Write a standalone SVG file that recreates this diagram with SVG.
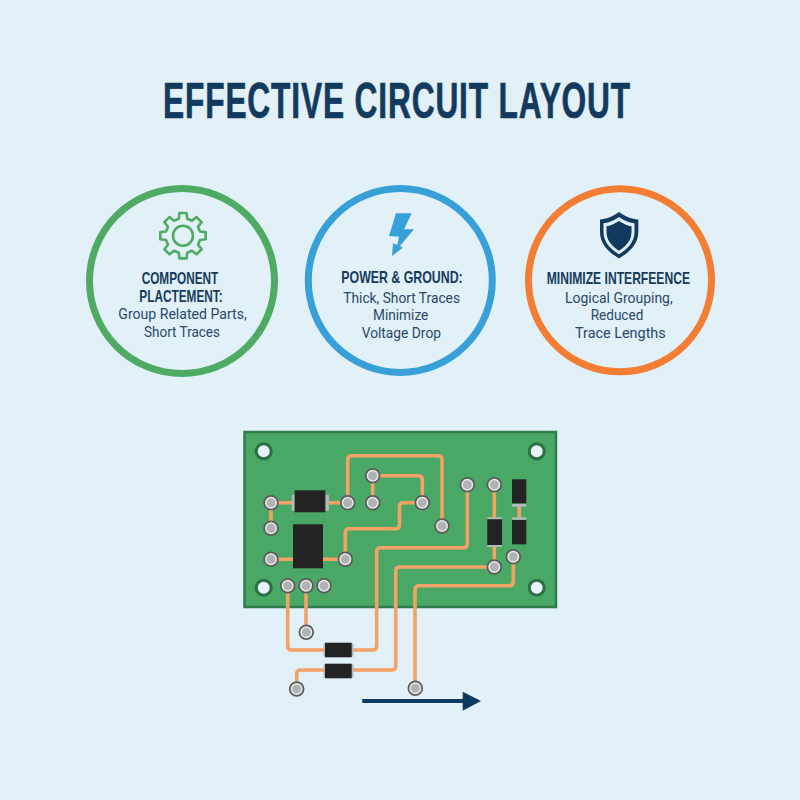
<svg xmlns="http://www.w3.org/2000/svg" width="800" height="800" viewBox="0 0 800 800">
<style>
.title{font-family:"Liberation Sans",Arial,sans-serif;font-weight:700;font-size:49.5px;fill:#123a5e;stroke:#123a5e;stroke-width:.7px}
.h{font-family:"Liberation Sans",Arial,sans-serif;font-weight:700;font-size:17px;fill:#153b5c}
.b{font-family:"Roboto","Liberation Sans",sans-serif;font-size:15.5px;fill:#27496a}
.ring{fill:none;stroke-width:7}
.tr{fill:none;stroke:#f4a265;stroke-width:3.6;stroke-linejoin:round}
.chip{fill:#232323}
.cap{fill:#b4b8bb}
.hole{fill:#e6f3f8;stroke:#2b6f45;stroke-width:3}
</style>
<defs>
<g id="pad"><circle r="6.900" fill="#e9ecec" stroke="#5c5c5c" stroke-width="1.800"/><circle r="4.500" fill="#b1b3b3"/></g>
</defs>
<rect width="800" height="800" fill="#e2f0f8"/>
<text id="title" class="title" transform="translate(163 117.500) scale(.64 1)" x="0" y="0" textLength="730">EFFECTIVE CIRCUIT LAYOUT</text>

<g id="node-placement">
<circle class="ring" cx="182" cy="281" r="92.500" stroke="#4fab63"/>
<path transform="translate(183 235.700)" fill="none" stroke="#4fab63" stroke-width="2.600" stroke-linejoin="round" d="M-4.230-16.980L-3.600-22.700L3.600-22.700L4.230-16.980L9.010-15L13.520-18.610L18.610-13.520L15-9.010L16.980-4.230L22.700-3.600L22.700 3.600L16.980 4.230L15 9.010L18.610 13.520L13.520 18.610L9.010 15L4.230 16.980L3.600 22.700L-3.600 22.700L-4.230 16.980L-9.010 15L-13.520 18.610L-18.610 13.520L-15 9.010L-16.980 4.230L-22.700 3.600L-22.700-3.600L-16.980-4.230L-15-9.010L-18.610-13.520L-13.520-18.610L-9.010-15Z"/>
<circle cx="183" cy="235.700" r="10" fill="none" stroke="#4fab63" stroke-width="2.600"/>
<text class="h" x="141.700" y="284" textLength="76.600" lengthAdjust="spacingAndGlyphs">COMPONENT</text>
<text class="h" x="139.300" y="301.700" textLength="83.400" lengthAdjust="spacingAndGlyphs">PLACTEMENT:</text>
<text class="b" x="118.300" y="319.300" textLength="128.400" lengthAdjust="spacingAndGlyphs">Group Related Parts,</text>
<text class="b" x="144" y="337.300" textLength="76" lengthAdjust="spacingAndGlyphs">Short Traces</text>
</g>

<g id="node-power">
<circle class="ring" cx="400.300" cy="280.500" r="92" stroke="#37a0d8"/>
<path fill="#37a0d8" d="M396 213.300L411.700 213.300L404 229.300L414 229.300L400 246L402.700 247.700L392 256L393 243.300L397.300 245L399 236.700L389 236Z"/>
<text class="h" x="341.300" y="283.300" textLength="121.400" lengthAdjust="spacingAndGlyphs">POWER &amp; GROUND:</text>
<text class="b" x="343.300" y="302.700" textLength="116.700" lengthAdjust="spacingAndGlyphs">Thick, Short Traces</text>
<text class="b" x="373" y="320" textLength="55.300" lengthAdjust="spacingAndGlyphs">Minimize</text>
<text class="b" x="361.700" y="337.700" textLength="79.300" lengthAdjust="spacingAndGlyphs">Voltage Drop</text>
</g>

<g id="node-interference">
<circle class="ring" cx="620" cy="280.300" r="91.500" stroke="#f27d33"/>
<path fill="#123a5e" d="M619 212C626 217 632 219 638.300 219.500L638.300 232C638.300 245 628 253 619 258.500C610 253 600 245 600 232L600 219.500C606 219 612 217 619 212Z"/>
<path fill="#e2f0f8" d="M619 217C625 221 630 223 634.500 223.300L634.500 232C634.500 243 626 250 619 254.200C612 250 603.500 243 603.500 232L603.500 223.300C608 223 613 221 619 217Z"/>
<path fill="#123a5e" d="M619 221C624 224 628 226 631.500 226.300L631.500 232C631.500 241 625 247 619 250.700C613 247 606.500 241 606.500 232L606.500 226.300C610 226 614 224 619 221Z"/>
<text class="h" x="546.700" y="284" textLength="143.300" lengthAdjust="spacingAndGlyphs">MINIMIZE INTERFEENCE</text>
<text class="b" x="565" y="302.700" textLength="107.700" lengthAdjust="spacingAndGlyphs">Logical Grouping,</text>
<text class="b" x="590.700" y="320" textLength="52.600" lengthAdjust="spacingAndGlyphs">Reduced</text>
<text class="b" x="575" y="337.700" textLength="90.700" lengthAdjust="spacingAndGlyphs">Trace Lengths</text>
</g>

<g id="node-board">
<rect x="244.500" y="432" width="311.500" height="175" fill="#4aa866" stroke="#2f7d4b" stroke-width="2.500"/>
<circle class="hole" cx="263.700" cy="451.300" r="7.500"/>
<circle class="hole" cx="536.700" cy="451.300" r="7.500"/>
<circle class="hole" cx="263.700" cy="587.700" r="7.500"/>
<circle class="hole" cx="536.700" cy="587.700" r="7.500"/>
</g>

<g id="connectors">
<path class="tr" d="M271 502.700H292M329 502.700H347.700M271 502.700V528.300M271 559.300H293M323 559.300H345.300"/>
<path class="tr" d="M347.700 502.700V459.700Q347.700 455.700 351.700 455.700H438Q442 455.700 442 459.700V526"/>
<path class="tr" d="M372.700 502.700V475.700H418.300Q422.300 475.700 422.300 479.700V502.700"/>
<path class="tr" d="M422.300 502.700H403.500Q399.500 502.700 399.500 506.700V524.700Q399.500 528.700 395.500 528.700H349.300Q345.300 528.700 345.300 532.700V559.300"/>
<path class="tr" d="M467.300 484.700V543.700Q467.300 547.700 463.300 547.700H380.700Q376.700 547.700 376.700 551.700V646Q376.700 650 372.700 650H352"/>
<path class="tr" d="M494.300 484.700V519M494.300 547V567H399.700Q395.700 567 395.700 571V666Q395.700 670 391.700 670H352"/>
<path class="tr" d="M513.300 556.700V581.700Q513.300 585.700 509.300 585.700H419Q415 585.700 415 589.700V688.300"/>
<path class="tr" d="M519.200 506V518"/>
<path class="tr" d="M287.700 585.700V646Q287.700 650 291.700 650H325"/>
<path class="tr" d="M306 585.700V632.300"/>
<path class="tr" d="M296.700 689V674Q296.700 670 300.700 670H325"/>
<path d="M362.300 701H464" fill="none" stroke="#0f3a5f" stroke-width="4"/>
<path d="M462.700 691.700L481 701L462.700 710.700Z" fill="#0f3a5f"/>
</g>

<g id="node-diode-top">
<rect class="cap" x="291.700" y="494.700" width="3" height="16"/><rect class="cap" x="325.300" y="494.700" width="3.500" height="16"/>
<rect class="chip" x="294.700" y="490.300" width="30.600" height="22"/>
</g>
<g id="node-ic"><rect class="chip" x="293" y="524.300" width="30" height="44"/></g>
<g id="node-diode-r1">
<rect class="cap" x="487.300" y="517.300" width="14.700" height="2"/><rect class="cap" x="487.300" y="545" width="14.700" height="2"/>
<rect class="chip" x="487.300" y="519.300" width="14.700" height="25.700"/>
</g>
<g id="node-diode-r2">
<rect class="chip" x="512" y="479.300" width="14.300" height="24"/><rect class="cap" x="512" y="504" width="14.300" height="2.700"/>
</g>
<g id="node-diode-r3">
<rect class="cap" x="512" y="517.300" width="14.300" height="2.500"/><rect class="chip" x="512" y="520" width="14.300" height="24.300"/>
</g>
<g id="node-diode-low1">
<rect class="cap" x="323.500" y="643.500" width="30" height="13"/><rect class="chip" x="325" y="642.700" width="26.700" height="14.600"/>
</g>
<g id="node-diode-low2">
<rect class="cap" x="323.500" y="664.500" width="30" height="13"/><rect class="chip" x="325" y="663.700" width="26.700" height="14.600"/>
</g>

<g id="node-pads">
<use href="#pad" x="271" y="502.700"/><use href="#pad" x="271" y="528.300"/><use href="#pad" x="271" y="559.300"/>
<use href="#pad" x="347.700" y="502.700"/><use href="#pad" x="372.700" y="475.700"/><use href="#pad" x="372.700" y="502.700"/>
<use href="#pad" x="422.300" y="502.700"/><use href="#pad" x="442" y="526"/><use href="#pad" x="345.300" y="559.300"/>
<use href="#pad" x="467.300" y="484.700"/><use href="#pad" x="494.300" y="484.700"/><use href="#pad" x="494.300" y="567"/>
<use href="#pad" x="513.300" y="556.700"/><use href="#pad" x="287.700" y="585.700"/><use href="#pad" x="306" y="585.700"/>
<use href="#pad" x="324" y="585.700"/><use href="#pad" x="306.300" y="632.300"/><use href="#pad" x="296.700" y="689"/>
<use href="#pad" x="415.300" y="688.300"/>
</g>
</svg>
